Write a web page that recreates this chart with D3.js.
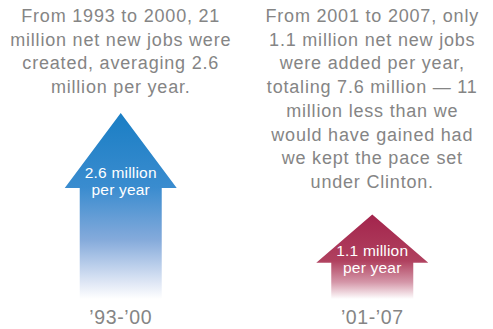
<html>
    <head>
        <title>Net new jobs per year</title>
        <style>
            body { margin: 0; background: #fff; }
            .chart text {
                font-family: 'Liberation Sans', Arial, sans-serif;
                text-anchor: middle;
            }
            .chart .note { fill: #858585; font-size: 18px; letter-spacing: 0.8px; }
            .chart .period { fill: #858585; font-size: 19.5px; letter-spacing: 0.6px; }
            .chart .inside { fill: #fff; font-size: 15.5px; letter-spacing: 0.2px; }
        </style>
    </head>
    <body>
        <svg class="chart"></svg>
        <script src="https://d3js.org/d3.v7.min.js"></script>
        <script>
            // data
            var periods = ['\u201993-\u201900', '\u201901-\u201907'];
            var jobsPerYear = [2.6, 1.1];
            var insideLabels = [['2.6 million', 'per year'], ['1.1 million', 'per year']];
            var notes = [
                ['From 1993 to 2000, 21', 'million net new jobs were', 'created, averaging 2.6', 'million per year.'],
                ['From 2001 to 2007, only', '1.1 million net new jobs', 'were added per year,',
                 'totaling 7.6 million \u2014 11', 'million less than we', 'would have gained had',
                 'we kept the pace set', 'under Clinton.']
            ];
            var gradients = [
                [['0', '#1a7ec4'], ['0.4', '#3a8ccf'], ['0.68', '#84aadb'], ['0.92', '#e2e9f6'], ['1', '#ffffff']],
                [['0', '#a3244c'], ['0.55', '#b0415f'], ['0.8', '#d496a8'], ['1', '#ffffff']]
            ];

            var width = 493, height = 329;

            var chart = d3.select('.chart')
                .attr('width', width)
                .attr('height', height);

            var x = d3.scalePoint()
                .domain(periods)
                .range([0, width])
                .padding(0.48);

            var y = d3.scaleLinear()
                .domain([0, 2.6])
                .range([289, 113]);

            var defs = chart.append('defs');
            var bottom = y(0) + 10;

            periods.forEach(function(p, i) {
                var g = defs.append('linearGradient')
                    .attr('id', 'grad' + i)
                    .attr('gradientUnits', 'userSpaceOnUse')
                    .attr('x1', 0).attr('x2', 0)
                    .attr('y1', y(jobsPerYear[i]))
                    .attr('y2', bottom);
                gradients[i].forEach(function(s) {
                    g.append('stop').attr('offset', s[0]).attr('stop-color', s[1]);
                });
            });

            var shaftHalf = 41, headHalf = 56;

            function headHeight(d) {
                return Math.min(75, (bottom - y(d)) * 0.57);
            }

            var arrows = chart.selectAll('g.arrow')
                .data(jobsPerYear)
                .enter()
                .append('g')
                .attr('class', 'arrow')
                .attr('transform', function(d, i) {
                    return 'translate(' + x(periods[i]) + ',0)';
                });

            arrows.append('path')
                .attr('fill', function(d, i) { return 'url(#grad' + i + ')'; })
                .attr('d', function(d) {
                    var tip = y(d), base = tip + headHeight(d);
                    return 'M0,' + tip +
                        'L' + headHalf + ',' + base +
                        'L' + shaftHalf + ',' + base +
                        'L' + shaftHalf + ',' + bottom +
                        'L' + (-shaftHalf) + ',' + bottom +
                        'L' + (-shaftHalf) + ',' + base +
                        'L' + (-headHalf) + ',' + base + 'Z';
                });

            arrows.each(function(d, i) {
                var t = y(d) + headHeight(d) * 0.86;
                d3.select(this).selectAll('text.inside')
                    .data(insideLabels[i])
                    .enter()
                    .append('text')
                    .attr('class', 'inside')
                    .attr('y', function(s, j) { return t + j * 17; })
                    .text(function(s) { return s; });
            });

            arrows.append('text')
                .attr('class', 'period')
                .attr('y', 324)
                .text(function(d, i) { return periods[i]; });

            notes.forEach(function(lines, i) {
                chart.selectAll('text.note' + i)
                    .data(lines)
                    .enter()
                    .append('text')
                    .attr('class', 'note note' + i)
                    .attr('x', x(periods[i]))
                    .attr('y', function(s, j) { return 22 + j * 23.7; })
                    .text(function(s) { return s; });
            });
        </script>
    </body>
</html>
